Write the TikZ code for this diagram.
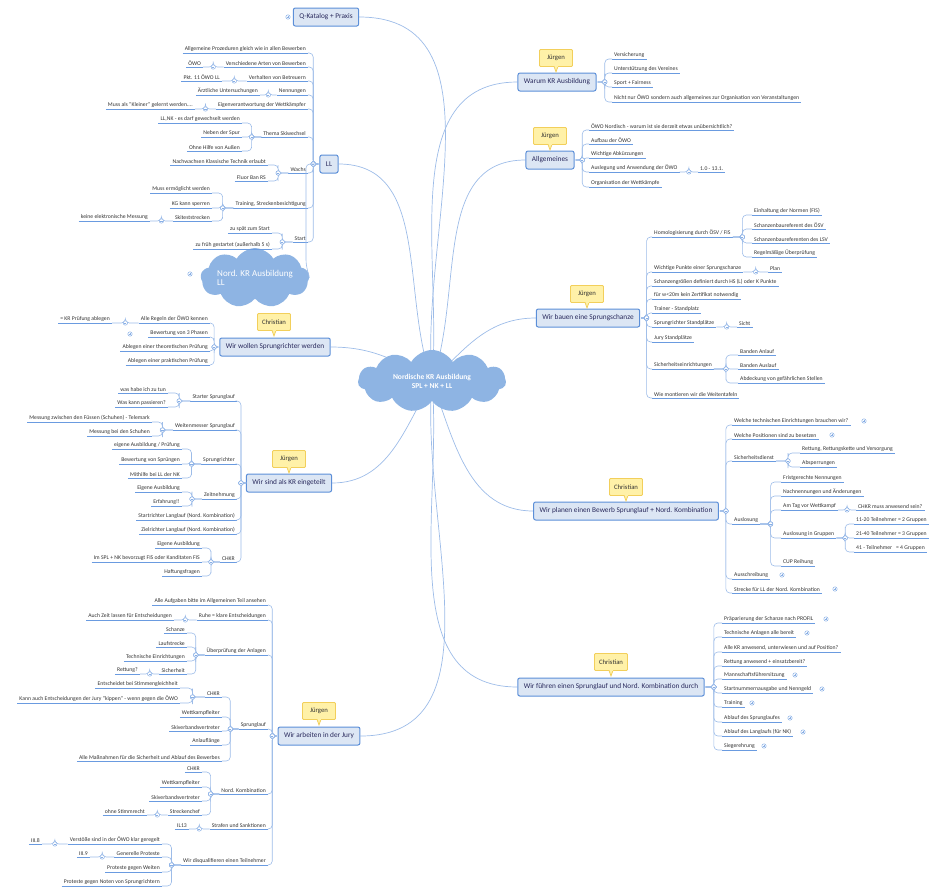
\documentclass[tikz,border=0pt]{standalone}
\usepackage{fontspec}
\setmainfont{Carlito}
\usetikzlibrary{calc,shapes.symbols,backgrounds}
\definecolor{ulc}{HTML}{6A9BE0}
\definecolor{conc}{HTML}{9DBCE8}
\definecolor{boxd}{HTML}{5C8FD8}
\definecolor{boxf}{HTML}{DCE6F4}
\definecolor{notef}{HTML}{FFF1A8}
\definecolor{noted}{HTML}{F2CF5B}
\definecolor{cloudc}{HTML}{8EB4E3}
\definecolor{txt}{HTML}{333333}
\tikzset{
 leaf/.style={inner xsep=2pt,inner ysep=1.2pt,font=\fontsize{5.7}{6.5}\selectfont,text=txt},
 ul/.style={draw=ulc,line width=1pt},
 con/.style={draw=conc,line width=0.6pt,rounded corners=4pt},
 mkc/.style={draw=ulc!80,fill=white,line width=0.5pt},
 box/.style={draw=boxd,fill=boxf,line width=1pt,rounded corners=2pt,minimum height=18pt,inner xsep=6pt,font=\fontsize{7.3}{8}\selectfont,text=txt!80!blue},
 note/.style={draw=noted,fill=notef,line width=0.8pt,rounded corners=1pt,minimum height=17pt,minimum width=33pt,font=\fontsize{6.7}{7}\selectfont,text=txt},
 pt/.style={inner sep=0pt,minimum size=0pt,outer sep=0pt},
 main/.style={draw=conc,line width=0.7pt}
}
\newcommand\mk[1]{\draw[mkc] (#1) circle (2.2pt); \draw[ulc!80,line width=0.4pt] ($(#1)+(-1.1,0)$)--($(#1)+(1.1,0)$);}
\newcommand\pl[2]{\draw[mkc] (#1,#2) circle (2.2pt); \draw[ulc!80,line width=0.4pt] (#1-1.1,#2)--(#1+1.1,#2) (#1,#2-1.1)--(#1,#2+1.1);}
\newcommand\R[5]{\node[leaf,anchor=south west] (#1) at (#3,#4) {#5};
 \draw[ul] (#1.south west)--(#1.south east);
 \draw[con] (#2.south east) -| ($(#2.south east)!.5!(#1.south west)$) |- (#1.south west);
 \path let \p1=(#2.south east), \p2=(#1.south west) in coordinate (mm) at ({(\x1+\x2)/2},\y1);
 \mk{mm}}
\newcommand\Lf[5]{\node[leaf,anchor=south east] (#1) at (#3,#4) {#5};
 \draw[ul] (#1.south west)--(#1.south east);
 \draw[con] (#2.south west) -| ($(#2.south west)!.5!(#1.south east)$) |- (#1.south east);
 \path let \p1=(#2.south west), \p2=(#1.south east) in coordinate (mm) at ({(\x1+\x2)/2},\y1);
 \mk{mm}}
\newcommand\note[3]{\node[note] (#1) at (#2) {#3};
 \filldraw[draw=noted,fill=notef,line width=0.8pt] ($(#1.south)+(-2,-0.5)$) -- ($(#1.south)+(0,5)$) -- ($(#1.south)+(2,-0.5)$);
 \fill[notef] ($(#1.south)+(-1.5,-1)$) rectangle ($(#1.south)+(1.5,0.5)$);}
\begin{document}
\begin{tikzpicture}[x=1pt,y=-1pt]
\useasboundingbox (0,0) rectangle (948,895);
\node[cloud,cloud puffs=11,cloud puff arc=120,aspect=2.4,fill=cloudc,minimum width=148pt,minimum height=60pt,inner sep=0pt,font=\bfseries\fontsize{7.5}{9}\selectfont,text=white,align=center] (C) at (432,381) {Nordische KR Ausbildung\\SPL + NK + LL};
\node[box] (Q) at (326,17) {Q-Katalog + Praxis};
\node[box] (LL) at (329,164) {LL};
\node[box] (WS) at (275,347) {Wir wollen Sprungrichter werden};
\node[box] (WE) at (289,483) {Wir sind als KR eingeteilt};
\node[box] (WJ) at (319,736) {Wir arbeiten in der Jury};
\node[box] (WK) at (557,82) {Warum KR Ausbildung};
\node[box] (AG) at (550,160) {Allgemeines};
\node[box] (WB) at (588,318) {Wir bauen eine Sprungschanze};
\node[box] (WP) at (626,511) {Wir planen einen Bewerb Sprunglauf + Nord. Kombination};
\node[box] (WF) at (611,687) {Wir führen einen Sprunglauf und Nord. Kombination durch};
\note{n1}{274,322}{Christian}
\note{n2}{289,459}{Jürgen}
\note{n3}{319,711}{Jürgen}
\note{n4}{556,58}{Jürgen}
\note{n5}{550,136}{Jürgen}
\note{n6}{587,294}{Jürgen}
\note{n7}{626,487}{Christian}
\note{n8}{611,662}{Christian}
\node[cloud,cloud puffs=9,cloud puff arc=120,aspect=2.6,fill=cloudc,minimum width=100pt,minimum height=36pt,inner sep=0pt,font=\fontsize{9}{9.5}\selectfont,text=white,align=left] (C2) at (255,278) {Nord. KR Ausbildung\\LL};
\pl{190}{274}
\pl{288}{17}
\begin{pgfonlayer}{background}
\draw[main] (C.center) to[out=95,in=0] (Q.east);
\draw[main] (C.center) to[out=110,in=0] (LL.east);
\draw[main] (C.center) to[out=150,in=0] (WS.east);
\draw[main] (C.center) to[out=-120,in=0] (WE.east);
\draw[main] (C.center) to[out=-95,in=0] (WJ.east);
\draw[main] (C.center) to[out=85,in=180] (WK.west);
\draw[main] (C.center) to[out=70,in=180] (AG.west);
\draw[main] (C.center) to[out=45,in=180] (WB.west);
\draw[main] (C.center) to[out=-70,in=180] (WP.west);
\draw[main] (C.center) to[out=-85,in=180] (WF.west);
\end{pgfonlayer}
\node[pt] (LLw) at ($(LL.west)+(-1,0)$) {};
\node[pt] (WSw) at ($(WS.west)+(-1,0)$) {};
\node[pt] (WEw) at ($(WE.west)+(-1,0)$) {};
\node[pt] (WJw) at ($(WJ.west)+(-1,0)$) {};
\node[pt] (WKe) at ($(WK.east)+(1,0)$) {};
\node[pt] (AGe) at ($(AG.east)+(1,0)$) {};
\node[pt] (WBe) at ($(WB.east)+(1,0)$) {};
\node[pt] (WPe) at ($(WP.east)+(1,0)$) {};
\node[pt] (WFe) at ($(WF.east)+(1,0)$) {};
% ---- LL
\Lf{l1}{LLw}{308}{53}{Allgemeine Prozeduren gleich wie in allen Bewerben}
\Lf{l2}{LLw}{308}{67}{Verschiedene Arten von Bewerben}
\Lf{l2a}{l2}{203}{67}{ÖWO}
\Lf{l3}{LLw}{308}{81}{Verhalten von Betreuern}
\Lf{l3a}{l3}{222}{81}{Pkt. 11 ÖWO LL}
\Lf{l4}{LLw}{308}{95}{Nennungen}
\Lf{l4a}{l4}{260}{95}{Ärztliche Untersuchungen}
\Lf{l5}{LLw}{308}{109}{Eigenverantwortung der Wettkämpfer}
\Lf{l5a}{l5}{195}{109}{Muss als "Kleiner" gelernt werden....}
\Lf{l6}{LLw}{308}{137}{Thema Skiwechsel}
\Lf{l6a}{l6}{242}{123}{LL,NK - es darf gewechselt werden}
\Lf{l6b}{l6}{242}{137}{Neben der Spur}
\Lf{l6c}{l6}{242}{151}{Ohne Hilfe von Außen}
\Lf{l7}{LLw}{308}{173}{Wachs}
\Lf{l7a}{l7}{268}{165}{Nachwachsen Klassische Technik erlaubt}
\Lf{l7b}{l7}{268}{181}{Fluor Ban RS}
\Lf{l8}{LLw}{308}{208}{Training, Streckenbesichtigung}
\Lf{l8a}{l8}{212}{193}{Muss ermöglicht werden}
\Lf{l8b}{l8}{212}{208}{KG kann sperren}
\Lf{l8c}{l8}{212}{221}{Skiteststrecken}
\Lf{l8d}{l8c}{150}{221}{keine elektronische Messung}
\Lf{l9}{LLw}{308}{242}{Start}
\Lf{l9a}{l9}{272}{233}{zu spät zum Start}
\Lf{l9b}{l9}{272}{249}{zu früh gestartet (außerhalb 5 s)}
\draw[con] (LLw) -| (306,264) -- (C2.east);
% ---- Wir wollen
\Lf{s1}{WSw}{210}{323}{Alle Regeln der ÖWO kennen}
\Lf{s1a}{s1}{112}{323}{= KR Prüfung ablegen}
\Lf{s2}{WSw}{210}{337}{Bewertung von 3 Phasen}
\pl{130}{334}
\Lf{s3}{WSw}{210}{351}{Ablegen einer theoretischen Prüfung}
\Lf{s4}{WSw}{210}{365}{Ablegen einer praktischen Prüfung}
% ---- Wir sind
\Lf{e1}{WEw}{237}{401}{Starter Sprunglauf}
\Lf{e1a}{e1}{168}{393}{was habe ich zu tun}
\Lf{e1b}{e1}{168}{407}{Was kann passieren?}
\Lf{e2}{WEw}{237}{430}{Weitenmesser Sprunglauf}
\Lf{e2a}{e2}{152}{422}{Messung zwischen den Füssen (Schuhen) - Telemark}
\Lf{e2b}{e2}{152}{436}{Messung bei den Schuhen}
\Lf{e3}{WEw}{237}{464}{Sprungrichter}
\Lf{e3a}{e3}{182}{449}{eigene Ausbildung / Prüfung}
\Lf{e3b}{e3}{182}{464}{Bewertung von Sprüngen}
\Lf{e3c}{e3}{182}{478}{Mithilfe bei LL der NK}
\Lf{e4}{WEw}{237}{499}{Zeitnehmung}
\Lf{e4a}{e4}{182}{492}{Eigene Ausbildung}
\Lf{e4b}{e4}{182}{506}{Erfahrung!!}
\Lf{e5}{WEw}{237}{520}{Startrichter Langlauf (Nord. Kombination)}
\Lf{e6}{WEw}{237}{534}{Zielrichter Langlauf (Nord. Kombination)}
\Lf{e7}{WEw}{237}{562}{CHKR}
\Lf{e7a}{e7}{202}{548}{Eigene Ausbildung}
\Lf{e7b}{e7}{202}{562}{Im SPL + NK bevorzugt FIS oder Kanditaten FIS}
\Lf{e7c}{e7}{202}{576}{Haftungsfragen}
% ---- Jury
\Lf{j1}{WJw}{268}{605}{Alle Aufgaben bitte im Allgemeinen Teil ansehen}
\Lf{j2}{WJw}{268}{620}{Ruhe = klare Entscheidungen}
\Lf{j2a}{j2}{174}{620}{Auch Zeit lassen für Entscheidungen}
\Lf{j3}{WJw}{268}{655}{Überprüfung der Anlagen}
\Lf{j3a}{j3}{187}{633}{Schanze}
\Lf{j3b}{j3}{187}{647}{Laufstrecke}
\Lf{j3c}{j3}{187}{661}{Technische Einrichtungen}
\Lf{j3d}{j3}{187}{674}{Sicherheit}
\Lf{j3e}{j3d}{140}{674}{Rettung?}
\Lf{j4}{WJw}{268}{729}{Sprunglauf}
\Lf{j4a}{j4}{222}{697}{CHKR}
\Lf{j4b}{j4a}{180}{688}{Entscheidet bei Stimmengleichheit}
\Lf{j4c}{j4a}{180}{703}{Kann auch Entscheidungen der Jury "kippen" - wenn gegen die ÖWO}
\Lf{j4d}{j4}{222}{717}{Wettkampfleiter}
\Lf{j4e}{j4}{222}{731}{Skiverbandsvertreter}
\Lf{j4f}{j4}{222}{745}{Anlauflänge}
\Lf{j4g}{j4}{222}{761}{Alle Maßnahmen für die Sicherheit und Ablauf des Bewerbes}
\Lf{j5}{WJw}{268}{794}{Nord. Kombination}
\Lf{j5a}{j5}{202}{772}{CHKR}
\Lf{j5b}{j5}{202}{787}{Wettkampfleiter}
\Lf{j5c}{j5}{202}{801}{Skiverbandsvertreter}
\Lf{j5d}{j5}{202}{815}{Streckenchef}
\Lf{j5e}{j5d}{147}{815}{ohne Stimmrecht}
\Lf{j6}{WJw}{268}{829}{Strafen und Sanktionen}
\Lf{j6a}{j6}{189}{829}{IL13}
\Lf{j7}{WJw}{268}{865}{Wir disqualifieren einen Teilnehmer}
\Lf{j7a}{j7}{162}{844}{Verstöße sind in der ÖWO klar geregelt}
\Lf{j7b}{j7a}{42}{844}{III.8}
\Lf{j7c}{j7}{162}{857}{Generelle Proteste}
\Lf{j7d}{j7c}{90}{857}{III.9}
\Lf{j7e}{j7}{162}{872}{Proteste gegen Weiten}
\Lf{j7f}{j7}{162}{886}{Proteste gegen Noten von Sprungrichtern}
% ---- Warum
\R{k1}{WKe}{612}{59}{Versicherung}
\R{k2}{WKe}{612}{73}{Unterstützung des Vereines}
\R{k3}{WKe}{612}{87}{Sport + Fairness}
\R{k4}{WKe}{612}{102}{Nicht nur ÖWO sondern auch allgemeines zur Organisation von Veranstaltungen}
% ---- Allgemeines
\R{g1}{AGe}{589}{130}{ÖWO Nordisch - warum  ist sie derzeit etwas unübersichtlich?}
\R{g2}{AGe}{589}{144}{Aufbau der ÖWO}
\R{g3}{AGe}{589}{158}{Wichtige Abkürzungen}
\R{g4}{AGe}{589}{172}{Auslegung und Anwendung der ÖWO}
\R{g4a}{g4}{698}{172}{1.0 - 13.1.}
\R{g5}{AGe}{589}{187}{Organisation der Wettkämpfe}
% ---- Wir bauen
\R{b1}{WBe}{652}{237}{Homologisierung durch ÖSV / FIS}
\R{b1a}{b1}{752}{215}{Einhaltung der Normen (FIS)}
\R{b1b}{b1}{752}{229}{Schanzenbaureferent des ÖSV}
\R{b1c}{b1}{752}{243}{Schanzenbaureferenten des LSV}
\R{b1d}{b1}{752}{257}{Regelmäßige Überprüfung}
\R{b2}{WBe}{652}{272}{Wichtige Punkte einer Sprungschanze}
\R{b2a}{b2}{768}{272}{Plan}
\R{b3}{WBe}{652}{286}{Schanzengrößen definiert durch HS (L) oder K Punkte}
\R{b4}{WBe}{652}{299}{für w<20m kein Zertifikat notwendig}
\R{b5}{WBe}{652}{313}{Trainer - Standplatz}
\R{b6}{WBe}{652}{327}{Sprungrichter Standplätze}
\R{b6a}{b6}{737}{327}{Sicht}
\R{b7}{WBe}{652}{342}{Jury Standplätze}
\R{b8}{WBe}{652}{369}{Sicherheitseinrichtungen}
\R{b8a}{b8}{738}{355}{Banden Anlauf}
\R{b8b}{b8}{738}{369}{Banden Auslauf}
\R{b8c}{b8}{738}{383}{Abdeckung von gefährlichen Stellen}
\R{b9}{WBe}{652}{398}{Wie montieren wir die Weitentafeln}
% ---- Wir planen
\R{p1}{WPe}{732}{425}{Welche technischen Einrichtungen brauchen wir?}
\R{p2}{WPe}{732}{439}{Welche Positionen sind zu besetzen}
\R{p3}{WPe}{732}{461}{Sicherheitsdienst}
\R{p3a}{p3}{800}{453}{Rettung, Rettungskette und Versorgung}
\R{p3b}{p3}{800}{467}{Absperrungen}
\R{p4}{WPe}{732}{524}{Auslosung}
\R{p4a}{p4}{781}{482}{Fristgerechte Nennungen}
\R{p4b}{p4}{781}{496}{Nachnennungen und Änderungen}
\R{p4c}{p4}{781}{510}{Am Tag vor Wettkampf}
\R{p4d}{p4c}{856}{510}{CHKR muss anwesend sein?}
\R{p4e}{p4}{781}{538}{Auslosung in Gruppen}
\R{p4f}{p4e}{854}{524}{11-20 Teilnehmer = 2 Gruppen}
\R{p4g}{p4e}{854}{538}{21-40 Teilnehmer = 3 Gruppen}
\R{p4h}{p4e}{854}{552}{41 - Teilnehmer~~ = 4 Gruppen}
\R{p4i}{p4}{781}{566}{CUP Reihung}
\R{p5}{WPe}{732}{579}{Ausschreibung}
\R{p6}{WPe}{732}{593}{Strecke für LL der Nord. Kombination}
\pl{864}{421}\pl{832}{435}\pl{782}{575}\pl{835}{589}
% ---- Wir führen
\R{f1}{WFe}{722}{623}{Präparierung der Schanze nach PROFIL}
\R{f2}{WFe}{722}{637}{Technische Anlagen alle bereit}
\R{f3}{WFe}{722}{652}{Alle KR anwesend, unterwiesen und auf Position?}
\R{f4}{WFe}{722}{666}{Rettung anwesend + einsatzbereit?}
\R{f5}{WFe}{722}{679}{Mannschaftsführersitzung}
\R{f6}{WFe}{722}{693}{Startnummernausgabe und Nenngeld}
\R{f7}{WFe}{722}{707}{Training}
\R{f8}{WFe}{722}{722}{Ablauf des Sprunglaufes}
\R{f9}{WFe}{722}{736}{Ablauf des Langlaufs (für NK)}
\R{f10}{WFe}{722}{750}{Siegerehrung}
\pl{826}{619}\pl{807}{633}\pl{795}{675}\pl{822}{689}\pl{752}{703}\pl{790}{718}\pl{803}{732}\pl{764}{746}
\end{tikzpicture}
\end{document}
